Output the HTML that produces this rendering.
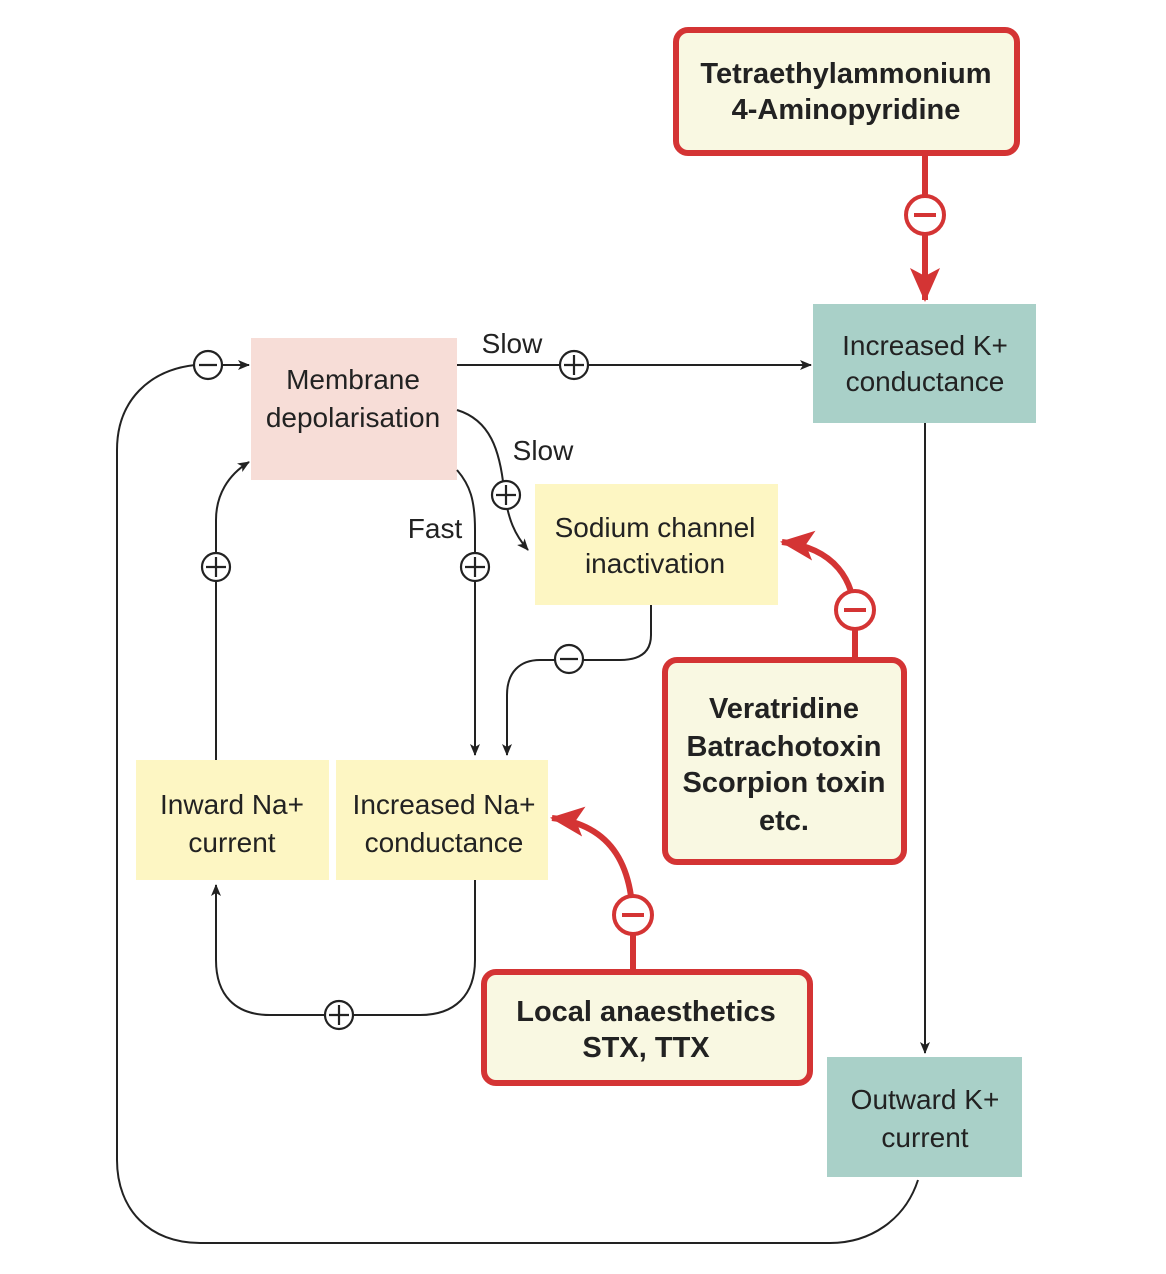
<!DOCTYPE html>
<html><head><meta charset="utf-8"><style>
html,body{margin:0;padding:0;background:#fff;}
svg{display:block;}
text{font-family:"Liberation Sans",sans-serif;fill:#222;text-anchor:middle;}
.n{font-size:28px;}
.b{font-size:29px;font-weight:bold;}
.l{font-size:28px;}
</style></head><body>
<svg width="1166" height="1274" viewBox="0 0 1166 1274" xmlns="http://www.w3.org/2000/svg">
<defs>
<marker id="a" markerWidth="12" markerHeight="10" refX="11" refY="5" orient="auto" markerUnits="userSpaceOnUse"><path d="M0,0 L12,5 L0,10 L3,5z" fill="#222"/></marker>
<marker id="r" markerWidth="34" markerHeight="30" refX="32" refY="15" orient="auto" markerUnits="userSpaceOnUse"><path d="M0,0 L34,15 L0,30 L8,15z" fill="#d43434"/></marker>
</defs>
<!-- boxes -->
<rect x="251" y="338" width="206" height="142" fill="#f7ddd7"/>
<rect x="813" y="304" width="223" height="119" fill="#a9d0c8"/>
<rect x="535" y="484" width="243" height="121" fill="#fdf6c3"/>
<rect x="136" y="760" width="193" height="120" fill="#fdf6c3"/>
<rect x="336" y="760" width="212" height="120" fill="#fdf6c3"/>
<rect x="827" y="1057" width="195" height="120" fill="#a9d0c8"/>
<rect x="676" y="30" width="341" height="123" rx="12" fill="#f9f8e2" stroke="#d43434" stroke-width="6"/>
<rect x="665" y="660" width="239" height="202" rx="12" fill="#f9f8e2" stroke="#d43434" stroke-width="6"/>
<rect x="484" y="972" width="326" height="111" rx="12" fill="#f9f8e2" stroke="#d43434" stroke-width="6"/>
<!-- black connectors -->
<g fill="none" stroke="#222" stroke-width="2">
<path d="M457,365 L811,365" marker-end="url(#a)"/>
<path d="M457,410 C490,420 500,450 504,490 C508,520 515,535 528,550" marker-end="url(#a)"/>
<path d="M457,470 C470,485 475,500 475,530 L475,755" marker-end="url(#a)"/>
<path d="M216,760 L216,520 C216,495 228,475 249,462" marker-end="url(#a)"/>
<path d="M475,880 L475,960 C475,995 455,1015 420,1015 L270,1015 C235,1015 216,995 216,960 L216,885" marker-end="url(#a)"/>
<path d="M651,605 L651,635 C651,652 640,660 620,660 L540,660 C520,660 507,672 507,695 L507,755" marker-end="url(#a)"/>
<path d="M925,423 L925,1053" marker-end="url(#a)"/>
<path d="M918,1180 C905,1220 870,1243 830,1243 L200,1243 C150,1243 117,1210 117,1160 L117,450 C117,400 150,370 195,365 L249,365" marker-end="url(#a)"/>
</g>
<!-- red connectors -->
<g fill="none" stroke="#d43434" stroke-width="6">
<path d="M925,155 L925,300" marker-end="url(#r)"/>
<path d="M855,658 L855,620 C855,580 835,548 782,542" marker-end="url(#r)"/>
<path d="M633,970 L633,925 C633,870 615,825 552,818" marker-end="url(#r)"/>
</g>
<!-- signs -->
<g stroke-width="2.2" fill="#fff">
<g stroke="#222">
<circle cx="574" cy="365" r="14"/><circle cx="506" cy="495" r="14"/><circle cx="475" cy="567" r="14"/>
<circle cx="216" cy="567" r="14"/><circle cx="339" cy="1015" r="14"/><circle cx="569" cy="659" r="14"/><circle cx="208" cy="365" r="14"/>
<path d="M564,365h20M574,355v20M496,495h20M506,485v20M465,567h20M475,557v20M206,567h20M216,557v20M329,1015h20M339,1005v20M560,659h18M199,365h18"/>
</g>
<g stroke="#d43434" stroke-width="4">
<circle cx="925" cy="215" r="19"/><circle cx="855" cy="610" r="19"/><circle cx="633" cy="915" r="19"/>
<path d="M914,215h22M844,610h22M622,915h22"/>
</g>
</g>
<!-- text -->
<text class="n" x="353" y="389">Membrane</text>
<text class="n" x="353" y="427">depolarisation</text>
<text class="n" x="925" y="355">Increased K+</text>
<text class="n" x="925" y="391">conductance</text>
<text class="n" x="655" y="537">Sodium channel</text>
<text class="n" x="655" y="573">inactivation</text>
<text class="n" x="232" y="814">Inward Na+</text>
<text class="n" x="232" y="852">current</text>
<text class="n" x="444" y="814">Increased Na+</text>
<text class="n" x="444" y="852">conductance</text>
<text class="n" x="925" y="1109">Outward K+</text>
<text class="n" x="925" y="1147">current</text>
<text class="l" x="512" y="353">Slow</text>
<text class="l" x="543" y="460">Slow</text>
<text class="l" x="435" y="538">Fast</text>
<text class="b" x="846" y="83">Tetraethylammonium</text>
<text class="b" x="846" y="119">4-Aminopyridine</text>
<text class="b" x="784" y="718">Veratridine</text>
<text class="b" x="784" y="756">Batrachotoxin</text>
<text class="b" x="784" y="792">Scorpion toxin</text>
<text class="b" x="784" y="830">etc.</text>
<text class="b" x="646" y="1021">Local anaesthetics</text>
<text class="b" x="646" y="1057">STX, TTX</text>
</svg>
</body></html>
